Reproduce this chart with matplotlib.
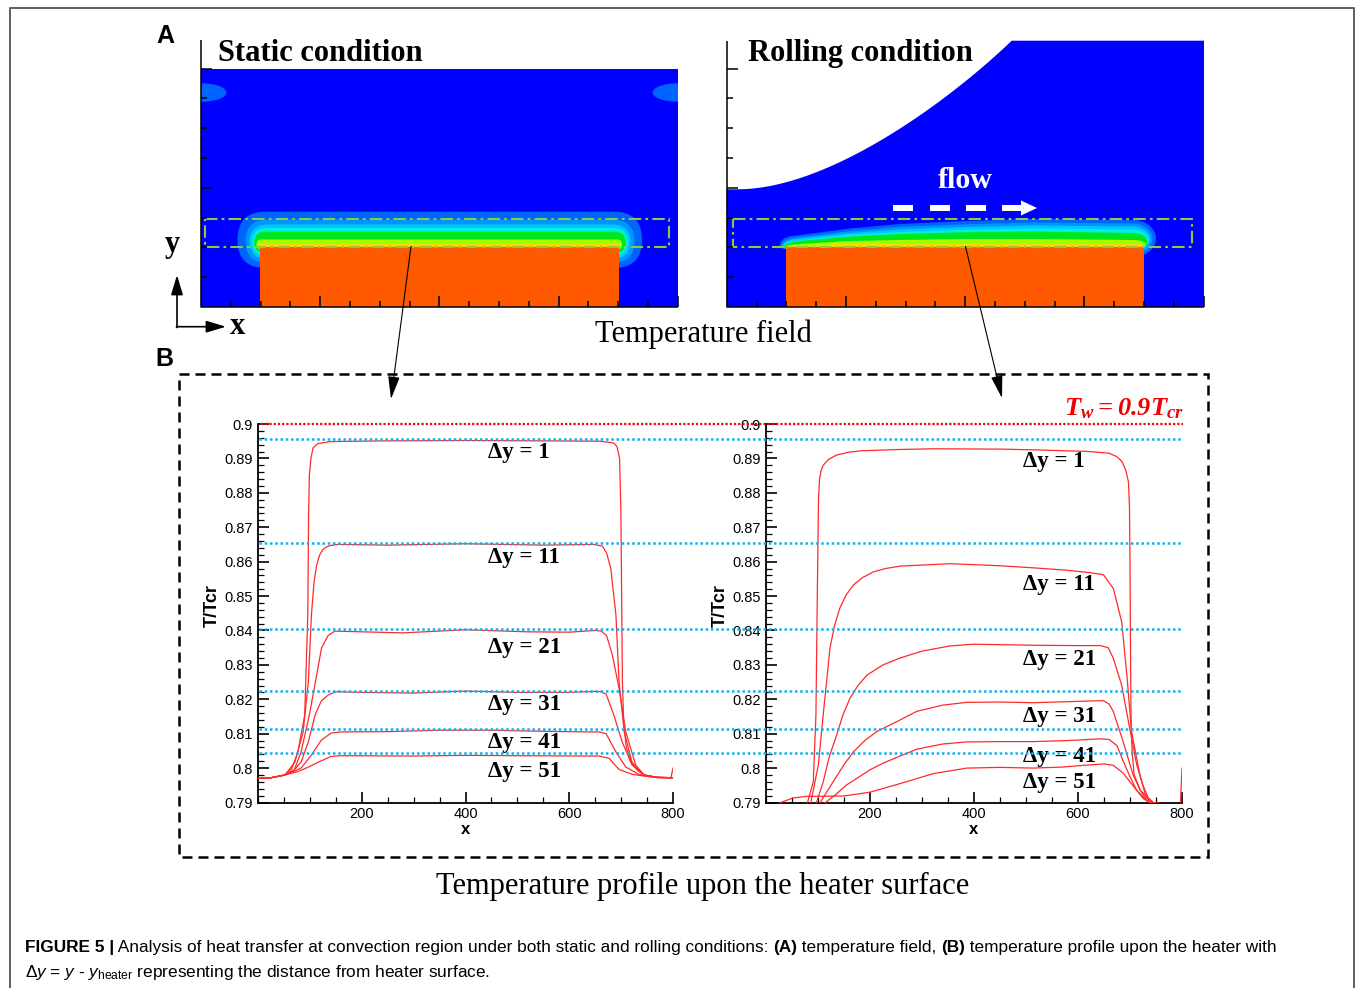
import numpy as np
import matplotlib
matplotlib.use("Agg")
import matplotlib.pyplot as plt
import matplotlib.transforms as mtransforms
from matplotlib.patches import Rectangle, FancyBboxPatch, Polygon, Ellipse
from matplotlib.ticker import MultipleLocator, FuncFormatter

plt.rcParams['font.family'] = ['Liberation Sans', 'DejaVu Sans']
plt.rcParams['mathtext.fontset'] = 'custom'
plt.rcParams['mathtext.rm'] = 'Liberation Sans'
plt.rcParams['mathtext.it'] = 'Liberation Sans:italic'
plt.rcParams['mathtext.bf'] = 'Liberation Serif:bold:italic'

# ---------------- data ----------------
x_tick_values = [200, 400, 600, 800]
y_tick_values = [0.79, 0.80, 0.81, 0.82, 0.83, 0.84, 0.85, 0.86, 0.87, 0.88, 0.89, 0.90]
dy_labels = ["Δy = 1", "Δy = 11", "Δy = 21", "Δy = 31", "Δy = 41", "Δy = 51"]
wall_ratio = 0.9
reference_levels = [0.8955, 0.8655, 0.8405, 0.8225, 0.8115, 0.8045]

static_x_dy1 = [0, 25, 52, 65, 77, 90, 96, 97.5, 99, 102, 106, 115, 140, 250, 400, 550, 660, 685, 692, 697, 699.5, 701, 702.5, 705, 710, 720, 732, 744, 770, 796, 800]
static_T_dy1 = [0.7970, 0.7972, 0.7980, 0.7998, 0.8047, 0.8154, 0.8445, 0.8735, 0.8850, 0.8900, 0.8930, 0.8943, 0.8949, 0.8951, 0.8952, 0.8951, 0.8950, 0.8945, 0.8935, 0.8900, 0.8750, 0.8500, 0.8250, 0.8130, 0.8060, 0.8015, 0.7993, 0.7980, 0.7972, 0.7972, 0.8000]
static_x_dy11 = [0, 25, 52, 71, 87, 97, 103, 108, 113, 119, 125, 132, 140, 155, 250, 400, 550, 648, 664, 672, 680, 690, 696, 706, 721, 744, 770, 800]
static_T_dy11 = [0.7970, 0.7972, 0.7980, 0.8017, 0.8105, 0.8250, 0.8445, 0.8540, 0.8590, 0.8620, 0.8635, 0.8643, 0.8647, 0.8650, 0.8648, 0.8652, 0.8648, 0.8650, 0.8645, 0.8625, 0.8581, 0.8445, 0.8250, 0.8105, 0.8017, 0.7980, 0.7973, 0.7972]
static_x_dy21 = [0, 25, 52, 70, 83, 99, 113, 122.5, 135, 148, 200, 280, 400, 520, 600, 650, 662, 672, 683, 696, 709, 728, 744, 770, 800]
static_T_dy21 = [0.7970, 0.7972, 0.7980, 0.7995, 0.8047, 0.8154, 0.8270, 0.8349, 0.8385, 0.8398, 0.8396, 0.8393, 0.8402, 0.8396, 0.8395, 0.8400, 0.8398, 0.8385, 0.8329, 0.8232, 0.8105, 0.8009, 0.7980, 0.7973, 0.7972]
static_x_dy31 = [0, 25, 52, 68, 83, 97, 110, 122, 135, 150, 200, 300, 400, 500, 600, 650, 660, 671, 686, 702, 721, 744, 770, 800]
static_T_dy31 = [0.7970, 0.7972, 0.7980, 0.7992, 0.8017, 0.8076, 0.8154, 0.8195, 0.8212, 0.8222, 0.8220, 0.8218, 0.8224, 0.8220, 0.8220, 0.8223, 0.8222, 0.8215, 0.8154, 0.8076, 0.8009, 0.7980, 0.7973, 0.7972]
static_x_dy41 = [0, 25, 52, 65, 83, 103, 122, 141, 160, 250, 350, 450, 550, 640, 658, 671, 690, 709, 734, 750, 770, 800]
static_T_dy41 = [0.7970, 0.7972, 0.7980, 0.7988, 0.8000, 0.8038, 0.8081, 0.8102, 0.8105, 0.8106, 0.8110, 0.8110, 0.8107, 0.8105, 0.8105, 0.8100, 0.8047, 0.8003, 0.7982, 0.7976, 0.7973, 0.7972]
static_x_dy51 = [0, 25, 52, 77, 90, 116, 141, 160, 300, 400, 500, 640, 658, 677, 696, 721, 744, 770, 800]
static_T_dy51 = [0.7970, 0.7972, 0.7980, 0.7990, 0.7998, 0.8017, 0.8034, 0.8036, 0.8035, 0.8037, 0.8036, 0.8035, 0.8035, 0.8028, 0.7996, 0.7982, 0.7977, 0.7973, 0.7972]

rolling_x_dy1 = [70, 78, 91, 96, 99, 101, 103, 106, 110, 120, 136, 160, 181, 258, 322, 450, 514, 623, 660, 675, 685, 692, 697, 699, 700, 701, 702, 704, 708, 720, 745, 770, 797, 800]
rolling_T_dy1 = [0.7880, 0.7890, 0.7960, 0.8154, 0.8542, 0.8784, 0.8840, 0.8865, 0.8880, 0.8897, 0.8910, 0.8918, 0.8922, 0.8926, 0.8928, 0.8927, 0.8925, 0.8920, 0.8915, 0.8905, 0.8890, 0.8865, 0.8832, 0.8760, 0.8600, 0.8350, 0.8150, 0.8050, 0.7980, 0.7935, 0.7900, 0.7895, 0.7895, 0.8000]
rolling_x_dy11 = [76, 85, 100.6, 110, 123, 132, 142, 154, 168, 185, 206, 230, 258, 354, 450, 514, 579, 623, 649, 668, 684, 694, 703, 719, 730, 739, 750, 800]
rolling_T_dy11 = [0.7880, 0.7890, 0.8009, 0.8154, 0.8349, 0.8415, 0.8465, 0.8503, 0.8532, 0.8553, 0.8570, 0.8580, 0.8587, 0.8594, 0.8588, 0.8582, 0.8575, 0.8568, 0.8562, 0.8522, 0.8425, 0.8270, 0.8106, 0.7980, 0.7920, 0.7900, 0.7893, 0.7893]
rolling_x_dy21 = [88, 95, 110, 122, 136, 148, 161.5, 177, 194, 225, 258, 300, 354, 399, 514, 600, 643, 658, 668, 684, 697, 713, 725, 736, 748, 800]
rolling_T_dy21 = [0.7880, 0.7890, 0.7960, 0.8035, 0.8096, 0.8155, 0.8203, 0.8240, 0.8270, 0.8300, 0.8320, 0.8340, 0.8355, 0.8360, 0.8357, 0.8356, 0.8356, 0.8350, 0.8319, 0.8241, 0.8135, 0.8009, 0.7950, 0.7910, 0.7895, 0.7893]
rolling_x_dy31 = [92, 100, 129, 150, 168, 190, 213, 258, 290, 340, 386, 450, 514, 580, 623, 649, 660, 668, 687, 706, 720, 733, 745, 800]
rolling_T_dy31 = [0.7880, 0.7890, 0.7960, 0.8010, 0.8047, 0.8080, 0.8106, 0.8140, 0.8165, 0.8183, 0.8191, 0.8192, 0.8190, 0.8193, 0.8195, 0.8196, 0.8186, 0.8164, 0.8076, 0.7980, 0.7935, 0.7905, 0.7895, 0.7893]
rolling_x_dy41 = [98, 105, 130, 155, 200, 226, 258, 290, 340, 386, 450, 514, 580, 643, 660, 675, 687, 700, 712, 725, 740, 752, 800]
rolling_T_dy41 = [0.7880, 0.7890, 0.7918, 0.7951, 0.7995, 0.8015, 0.8035, 0.8055, 0.8070, 0.8076, 0.8077, 0.8077, 0.8080, 0.8085, 0.8083, 0.8065, 0.8020, 0.7975, 0.7938, 0.7912, 0.7898, 0.7893, 0.7893]
rolling_x_dy51 = [20, 28, 52, 78, 100, 150, 200, 258, 322, 386, 450, 514, 570, 611, 650, 668, 687, 700, 713, 733, 748, 800]
rolling_T_dy51 = [0.7885, 0.7900, 0.7913, 0.7918, 0.7918, 0.7919, 0.7930, 0.7955, 0.7984, 0.8000, 0.8002, 0.8000, 0.8003, 0.8008, 0.8012, 0.8008, 0.7985, 0.7960, 0.7935, 0.7905, 0.7895, 0.7893]

static_series = [(static_x_dy1, static_T_dy1), (static_x_dy11, static_T_dy11), (static_x_dy21, static_T_dy21),
                 (static_x_dy31, static_T_dy31), (static_x_dy41, static_T_dy41), (static_x_dy51, static_T_dy51)]
rolling_series = [(rolling_x_dy1, rolling_T_dy1), (rolling_x_dy11, rolling_T_dy11), (rolling_x_dy21, rolling_T_dy21),
                  (rolling_x_dy31, rolling_T_dy31), (rolling_x_dy41, rolling_T_dy41), (rolling_x_dy51, rolling_T_dy51)]

# ---------------- layout (pixels) ----------------
W, H = 1355, 988
fig = plt.figure(figsize=(W / 100, H / 100), dpi=100)
ax0 = fig.add_axes([0, 0, 1, 1])
ax0.set_xlim(0, W)
ax0.set_ylim(H, 0)
ax0.axis('off')

# outer frame of the figure box
ax0.plot([9.5, 9.5, 1354, 1354], [988, 8.5, 8.5, 988], color='#606060', lw=1.4, zorder=1)

BLUE = '#0000FF'
HEATER = '#FF5A00'
halo_colors = ['#0064FF', '#0096FF', '#00C8FF', '#00F0E0', '#00E61E', '#A0FF00', '#FFD700']
BOX_GREEN = '#8CCB3A'

# ---- static temperature field ----
static_bg = Rectangle((201, 69), 477, 238, fc=BLUE, ec='none', zorder=1)
ax0.add_patch(static_bg)
for cx in (201, 678):
    e = Ellipse((cx, 92.5), 51, 18.5, fc=halo_colors[0], ec='none', zorder=1.5)
    ax0.add_patch(e)
    e.set_clip_path(static_bg)
static_layers = [(237.5, 642, 211.7, 268, 28), (245.5, 634.5, 219.5, 263, 22), (249.5, 630.5, 224.5, 259, 18),
                 (252, 628, 228, 256, 15), (254, 626, 231.5, 253, 12), (256.5, 622, 239.5, 249.5, 5),
                 (258, 620, 243.5, 248, 3)]
for (a0, a1, b0, b1, r), c in zip(static_layers, halo_colors):
    ax0.add_patch(FancyBboxPatch((a0, b0), a1 - a0, b1 - b0, boxstyle=f"round,pad=0,rounding_size={r}",
                                 fc=c, ec='none', zorder=2))
ax0.add_patch(Rectangle((259.5, 246.5), 359.5, 60.5, fc=HEATER, ec='none', zorder=3))

# ---- rolling temperature field ----
# free surface drawn as a smooth cubic Bezier (shape geometry)
p0 = np.array([738.0, 189.3]); c1 = np.array([830.0, 189.0]); c2 = np.array([950.0, 100.0]); p3 = np.array([1011.7, 40.7])
tt = np.linspace(0, 1, 60)[:, None]
curve = ((1 - tt) ** 3) * p0 + 3 * ((1 - tt) ** 2) * tt * c1 + 3 * (1 - tt) * (tt ** 2) * c2 + (tt ** 3) * p3
free_surface = [(726.7, 189.3)] + [tuple(p) for p in curve]
roll_poly = [(726.7, 307), (1204, 307), (1204, 40.7)] + free_surface[::-1]
ax0.add_patch(Polygon(roll_poly, closed=True, fc=BLUE, ec='none', zorder=1))

rolling_layers = [(779, 235, 224, 219, 220, 1156, 257), (781, 237, 227, 222.5, 223.5, 1152.5, 254),
                  (782, 238.5, 229.5, 225.5, 226.5, 1150, 252), (783, 240, 232, 228.5, 229.5, 1148.5, 250),
                  (784, 241, 234, 231.5, 233, 1147, 249), (785, 244, 240, 239, 240, 1145.5, 248),
                  (786, 245.5, 244, 243.5, 244, 1145, 247.5)]


def rolling_shape(xt, y800, y900, y1033, y1133, xr, yb):
    base = 247.5
    d = base - y800
    pts = [(xt, base), (xt + 1.5, base - d * 0.45), (xt + 5, base - d * 0.72), (xt + 11, base - d * 0.9),
           (800, y800), (850, (y800 + y900) / 2 - 1), (900, y900), (966, (y900 + y1033) / 2 - 0.5),
           (1033, y1033), (1133, y1133)]
    a = xr - 1133
    b = (yb - y1133) / 2
    yc = (yb + y1133) / 2
    t = np.linspace(0, np.pi, 25)
    pts += list(zip(1133 + a * np.sin(t), yc - b * np.cos(t)))
    pts += [(1100, yb), (xt + 10, 250)]
    return pts


for params, c in zip(rolling_layers, halo_colors):
    ax0.add_patch(Polygon(rolling_shape(*params), closed=True, fc=c, ec='none', zorder=2))
ax0.add_patch(Rectangle((786, 246.7), 358, 60.3, fc=HEATER, ec='none', zorder=3))

# dash-dot boxes
for bx0, bx1 in [(204.5, 669), (733, 1192)]:
    ax0.add_patch(Rectangle((bx0, 219.3), bx1 - bx0, 27.4, fill=False, ec=BOX_GREEN, lw=1.5,
                            ls=(0, (6, 2, 1.3, 2)), zorder=4))


# axes frames of panel A
def frame(x0, x1, ytop):
    kw = dict(color='black', lw=1.1, zorder=5, solid_capstyle='butt')
    ax0.plot([x0, x0, x1], [ytop, 307, 307], **kw)
    for k in range(1, 9):
        L = 11 if k % 4 == 0 else 6
        y = 307 - 29.8 * k
        ax0.plot([x0, x0 + L], [y, y], **kw)
    for k in range(1, 17):
        L = 11 if k % 4 == 0 else 6
        x = x0 + 29.8 * k
        ax0.plot([x, x], [307, 307 - L], **kw)


frame(201, 678, 40)
frame(726.7, 1204, 40.7)

# flow arrow
for d0 in (893, 930, 966, 1002):
    ax0.add_patch(Rectangle((d0, 205), 20, 6, fc='white', ec='none', zorder=5))
ax0.add_patch(Polygon([(1021, 200.5), (1037, 208), (1021, 215.5)], closed=True, fc='white', ec='none', zorder=5))
ax0.text(965, 180, "flow", color='white', fontsize=21.5, fontweight='bold', family='Liberation Serif',
         ha='center', va='center', zorder=6)

# titles
ax0.text(218, 61, "Static condition", fontsize=22, fontweight='bold', family='Liberation Serif',
         ha='left', va='baseline')
ax0.text(748, 60.5, "Rolling condition", fontsize=22, fontweight='bold', family='Liberation Serif',
         ha='left', va='baseline')
ax0.text(156, 43, "A", fontsize=18, fontweight='bold', ha='left', va='baseline')
ax0.text(155, 366, "B", fontsize=18, fontweight='bold', ha='left', va='baseline')
ax0.text(703, 334, "Temperature field", fontsize=22, family='Liberation Serif', ha='center', va='center')
ax0.text(703, 886, "Temperature profile upon the heater surface", fontsize=22, family='Liberation Serif',
         ha='center', va='center')

# coordinate arrows
ax0.text(172.8, 252, "y", fontsize=22, fontweight='bold', family='Liberation Serif', ha='center', va='baseline')
ax0.text(237.5, 334, "x", fontsize=22, fontweight='bold', family='Liberation Serif', ha='center', va='baseline')
ax0.annotate('', xy=(177, 275), xytext=(177, 327.5),
             arrowprops=dict(arrowstyle='-|>,head_length=12,head_width=3.6', mutation_scale=1, lw=1.2,
                             color='black', shrinkA=0, shrinkB=0))
ax0.annotate('', xy=(226, 326.7), xytext=(176.4, 326.7),
             arrowprops=dict(arrowstyle='-|>,head_length=12,head_width=3.6', mutation_scale=1, lw=1.2,
                             color='black', shrinkA=0, shrinkB=0))

# link arrows from A to B
for (xs, ys), (xe, ye) in [((411, 246.5), (391, 399)), ((965.5, 246.5), (1002, 398))]:
    ax0.annotate('', xy=(xe, ye), xytext=(xs, ys),
                 arrowprops=dict(arrowstyle='-|>,head_length=14,head_width=3.6', mutation_scale=1, lw=0.8,
                                 color='black', shrinkA=0, shrinkB=0), zorder=7)

# dashed frame of panel B
ax0.add_patch(Rectangle((179, 374), 1029, 483, fill=False, ec='black', lw=1.8, ls=(0, (4, 2.4)), zorder=4))

# ---------------- panel B plots ----------------
ax1 = fig.add_axes([258 / W, 1 - 802.5 / H, (673 - 258) / W, (802.5 - 424) / H])
ax2 = fig.add_axes([766 / W, 1 - 802.5 / H, (1182 - 766) / W, (802.5 - 424) / H])


def style_axes(ax):
    ax.patch.set_alpha(0)
    ax.set_xlim(0, 800)
    ax.set_ylim(0.79, 0.90)
    for s in ['top', 'right']:
        ax.spines[s].set_visible(False)
    for s in ['left', 'bottom']:
        ax.spines[s].set_linewidth(1.3)
    ax.set_xticks(x_tick_values)
    ax.xaxis.set_minor_locator(MultipleLocator(50))
    ax.set_yticks(y_tick_values)
    ax.yaxis.set_minor_locator(MultipleLocator(0.002))
    ax.tick_params(which='major', direction='in', length=8, width=1.2, labelsize=10.5, pad=3.5)
    ax.tick_params(which='minor', direction='in', length=4.5, width=0.9)
    ax.yaxis.set_major_formatter(FuncFormatter(lambda v, p: f"{v:.2f}".rstrip('0')))


for ax, series in ((ax1, static_series), (ax2, rolling_series)):
    style_axes(ax)
    for xs, ts in series:
        ax.plot(xs, ts, color='#FF2A2A', lw=0.9, zorder=3)

trans = mtransforms.blended_transform_factory(ax0.transData, ax2.transData)
for lvl in reference_levels:
    ax2.plot([258.5, 1181], [lvl, lvl], transform=trans, clip_on=False, color='#10B0F0', lw=1.8,
             ls=(0, (1, 1.1)), zorder=4)
ax2.plot([261, 1183], [wall_ratio, wall_ratio], transform=trans, clip_on=False, color='#FF0000', lw=1.6,
         ls=(0, (1, 0.9)), zorder=4)

# axis labels
for xl, xc in ((212, 466), (720, 974)):
    ax0.text(xl, 606, "T/Tcr", rotation=90, fontsize=13, fontweight='bold', ha='center', va='center', zorder=8)
    ax0.text(xc, 829, "x", fontsize=12, fontweight='bold', ha='center', va='center')

static_label_y = [452, 557, 647, 704, 742, 771]
rolling_label_y = [461, 584, 659, 716, 756, 782]
for lab, ys, yr in zip(dy_labels, static_label_y, rolling_label_y):
    ax0.text(488, ys, lab, fontsize=16.5, fontweight='bold', family='Liberation Serif', ha='left', va='center',
             zorder=8)
    ax0.text(1023, yr, lab, fontsize=16.5, fontweight='bold', family='Liberation Serif', ha='left', va='center',
             zorder=8)

ax0.text(1184, 415, r"$\mathbf{T_w = 0.9T_{cr}}$", color='#F00000', fontsize=19, ha='right', va='baseline',
         zorder=8)

# ---------------- caption ----------------
cap_size = 12
t1 = ax0.text(25, 952, "FIGURE 5 |", fontsize=cap_size, fontweight='bold', ha='left', va='baseline')
t2 = ax0.annotate(" Analysis of heat transfer at convection region under both static and rolling conditions: ",
                  xy=(1, 0), xycoords=t1, fontsize=cap_size, ha='left', va='bottom')
t3 = ax0.annotate("(A)", xy=(1, 0), xycoords=t2, fontsize=cap_size, fontweight='bold', ha='left', va='bottom')
t4 = ax0.annotate(" temperature field, ", xy=(1, 0), xycoords=t3, fontsize=cap_size, ha='left', va='bottom')
t5 = ax0.annotate("(B)", xy=(1, 0), xycoords=t4, fontsize=cap_size, fontweight='bold', ha='left', va='bottom')
t6 = ax0.annotate(" temperature profile upon the heater with", xy=(1, 0), xycoords=t5, fontsize=cap_size,
                  ha='left', va='bottom')
t7 = ax0.text(25, 977, r"$\Delta y$ = $y$ - $y_{\mathrm{heater}}$ representing the distance from heater surface.",
              fontsize=cap_size, ha='left', va='baseline')

fig.canvas.draw()
rend = fig.canvas.get_renderer()
wid = t6.get_window_extent(rend).x1 - 25
scale = (1280 - 25) / wid
for t in (t1, t2, t3, t4, t5, t6, t7):
    t.set_fontsize(cap_size * scale)

fig.savefig("out.png", dpi=100)
